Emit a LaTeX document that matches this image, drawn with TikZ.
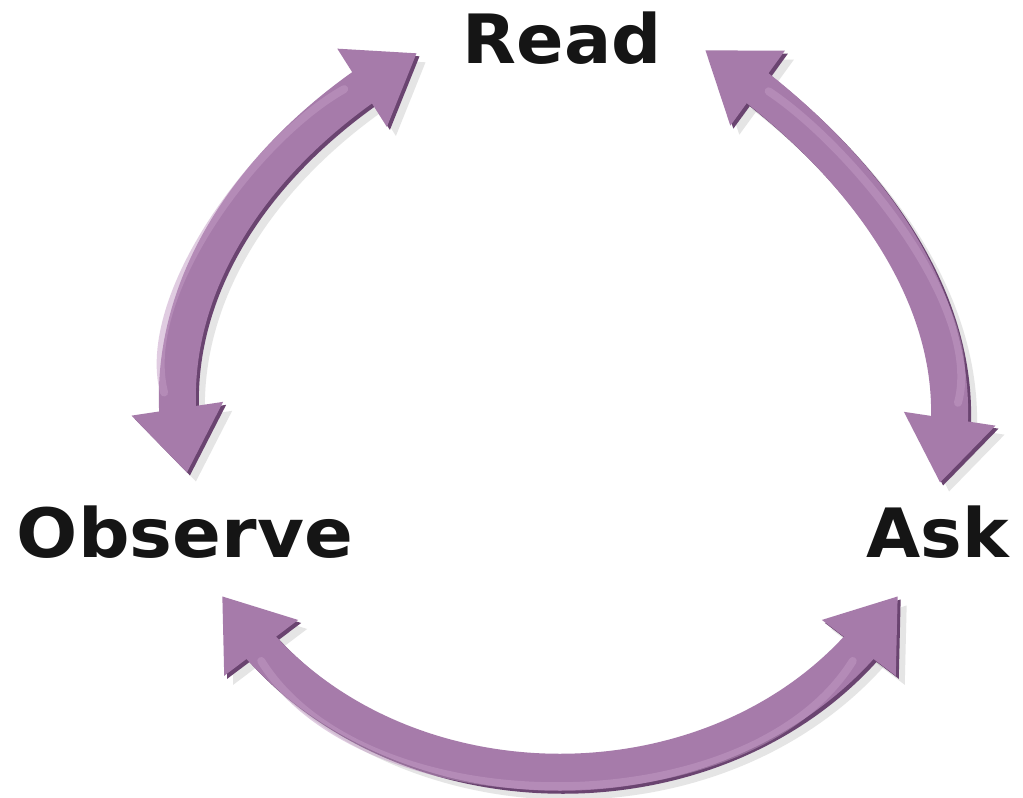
\documentclass[tikz,border=0pt]{standalone}
\usepackage{fontspec}
\setmainfont{DejaVu Sans}
\usetikzlibrary{arrows.meta,bending}
\definecolor{arcmain}{HTML}{A67BAA}
\definecolor{arcdark}{HTML}{6A4470}
\definecolor{arclight}{HTML}{C29BC4}
\definecolor{arcshadow}{HTML}{8A8A8A}
\definecolor{labeltext}{HTML}{151515}
\tikzset{
  lbl/.style={font=\fontsize{68}{80}\selectfont\bfseries, text=labeltext, inner sep=0pt, anchor=base},
  band/.style={line width=37pt, {Triangle[length=65pt,width=88pt]}-{Triangle[length=65pt,width=88pt]}},
  bandshadow/.style={band, draw=arcshadow, opacity=0.22, transform canvas={shift={(9pt,-9pt)}}},
  banddark/.style={band, draw=arcdark, transform canvas={shift={(3pt,-3pt)}}},
  bandmain/.style={band, draw=arcmain},
  bandlight/.style={line width=8pt, draw=arclight, opacity=0.5, line cap=round,
    shorten <=80pt, shorten >=80pt, transform canvas={shift={(-3pt,3pt)}}},
}
\newcommand{\drawbandarc}[1]{%
  \draw[bandshadow] #1;
  \draw[banddark] #1;
  \draw[bandmain] #1;
  \draw[bandlight] #1;
}
\begin{document}
\begin{tikzpicture}[x=1pt,y=-1pt]
  \fill[white] (0,0) rectangle (1023,798);
  \useasboundingbox (0,0) rectangle (1023,798);

  \node[lbl] (read) at (562,63) {\scalebox{1.03}[1]{Read}};
  \node[lbl] (observe) at (185,557) {\scalebox{1.06}[1]{Observe}};
  \node[lbl] (ask) at (938,557) {\scalebox{1.03}[1]{Ask}};

  \coordinate (obsTop) at (187,473);
  \coordinate (readLeft) at (417,53);
  \coordinate (readRight) at (705,50);
  \coordinate (askTop) at (940,483);
  \coordinate (obsBottom) at (222,596);
  \coordinate (askBottom) at (898,596);

  \drawbandarc{(obsTop) .. controls (142,298) and (260,141) .. (readLeft)}
  \drawbandarc{(readRight) .. controls (854,149) and (987,310) .. (askTop)}
  \drawbandarc{(obsBottom) .. controls (368,831) and (752,831) .. (askBottom)}
\end{tikzpicture}
\end{document}
